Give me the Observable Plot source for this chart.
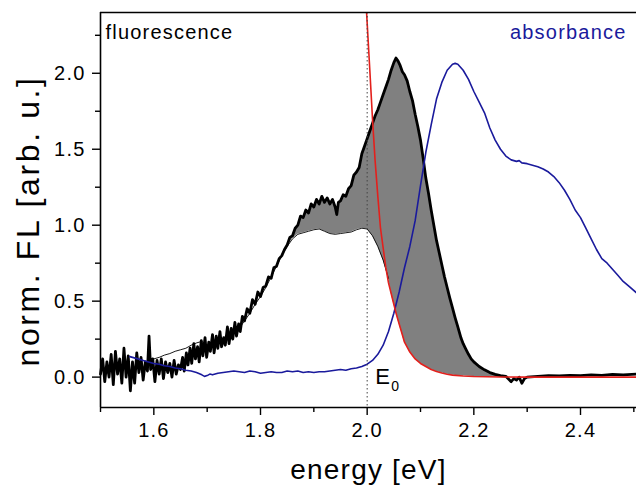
<!DOCTYPE html>
<html>
<head>
<meta charset="utf-8">
<script src="https://cdn.jsdelivr.net/npm/d3@7"></script>
<script src="https://cdn.jsdelivr.net/npm/@observablehq/plot@0.6"></script>
<style>
  html, body { margin: 0; padding: 0; background: white; }
  #chart { width: 636px; height: 490px; }
</style>
</head>
<body>
<div id="chart"></div>
<script>
// ---------- data (energy [eV], normalized value) ----------
const E0 = 2.0;

const flThick = [
  [1.500,0.02],[1.504,0.12],[1.508,-0.03],[1.512,0.10],[1.516,0.00],[1.520,0.15],[1.524,-0.05],[1.528,0.17],
  [1.532,0.02],[1.536,0.12],[1.540,-0.04],[1.544,0.19],[1.548,0.00],[1.552,0.14],[1.556,-0.09],[1.560,0.10],
  [1.564,-0.04],[1.568,0.16],[1.572,0.03],[1.576,0.13],[1.580,-0.02],[1.584,0.10],[1.588,0.04],[1.591,0.27],
  [1.594,0.05],[1.598,0.12],[1.602,-0.03],[1.606,0.11],[1.610,0.02],[1.614,0.12],[1.618,-0.01],[1.622,0.10],
  [1.626,0.03],[1.630,0.09],[1.634,0.00],[1.638,0.11],[1.642,0.02],[1.646,0.08],[1.650,0.05],[1.654,0.13],
  [1.657,0.04],[1.661,0.16],[1.664,0.08],[1.668,0.19],[1.671,0.09],[1.675,0.22],[1.678,0.12],[1.682,0.20],
  [1.685,0.10],[1.689,0.24],[1.692,0.14],[1.696,0.26],[1.699,0.13],[1.703,0.23],[1.706,0.17],[1.710,0.28],
  [1.713,0.16],[1.717,0.27],[1.720,0.19],[1.724,0.30],[1.727,0.20],[1.731,0.26],[1.734,0.21],[1.738,0.33],
  [1.741,0.22],[1.745,0.32],[1.748,0.25],[1.752,0.36],[1.755,0.27],[1.759,0.35],[1.762,0.30],[1.766,0.40],
  [1.770,0.37],[1.775,0.45],[1.780,0.42],[1.785,0.51],[1.790,0.48],[1.795,0.56],[1.800,0.53],[1.805,0.59],
  [1.810,0.60],[1.815,0.66],[1.820,0.65],[1.825,0.72],[1.830,0.73],[1.835,0.78],[1.840,0.80],[1.845,0.84],
  [1.850,0.87],[1.855,0.92],[1.860,0.93],[1.865,0.98],[1.870,1.00],[1.875,1.06],[1.880,1.05],[1.885,1.10],
  [1.890,1.08],[1.895,1.14],[1.900,1.12],[1.905,1.17],[1.910,1.14],[1.915,1.19],[1.920,1.15],[1.925,1.18],
  [1.930,1.14],[1.935,1.17],[1.940,1.12],[1.943,1.07],[1.946,1.15],[1.950,1.16],[1.955,1.20],[1.960,1.19],
  [1.965,1.24],[1.970,1.26],[1.975,1.33],[1.980,1.35],[1.985,1.38],[1.990,1.47],[1.995,1.52],[2.000,1.57],
  [2.005,1.62],[2.010,1.67],[2.015,1.72],[2.020,1.76],[2.025,1.81],[2.030,1.86],[2.035,1.91],[2.040,1.96],
  [2.045,2.02],[2.050,2.07],[2.054,2.10],[2.058,2.08],[2.062,2.05],[2.066,2.01],[2.070,1.99],[2.075,1.95],
  [2.080,1.88],[2.085,1.82],[2.090,1.73],[2.095,1.65],[2.100,1.56],[2.105,1.44],[2.110,1.31],[2.115,1.21],
  [2.120,1.10],[2.125,1.00],[2.130,0.90],[2.135,0.82],[2.140,0.74],[2.145,0.66],[2.150,0.59],[2.155,0.52],
  [2.160,0.455],[2.165,0.39],[2.170,0.33],[2.176,0.257],[2.180,0.22],[2.185,0.185],[2.190,0.15],[2.195,0.12],
  [2.200,0.10],[2.210,0.07],[2.220,0.048],[2.230,0.03],[2.240,0.018],[2.250,0.01],[2.260,0.005],[2.270,-0.03],
  [2.275,-0.01],[2.280,-0.02],[2.285,0.0],[2.290,-0.04],[2.295,-0.01],[2.300,0.0],[2.320,0.005],[2.340,0.01],
  [2.360,0.008],[2.380,0.012],[2.400,0.01],[2.420,0.015],[2.440,0.012],[2.460,0.018],[2.480,0.015],[2.505,0.02]
];

const flThin = [
  [1.59,0.11],[1.60,0.12],[1.61,0.13],[1.62,0.145],[1.63,0.155],[1.64,0.17],[1.65,0.18],[1.66,0.19],
  [1.67,0.21],[1.68,0.225],[1.69,0.235],[1.70,0.21],[1.71,0.215],[1.72,0.23],[1.73,0.25],[1.74,0.27],
  [1.75,0.29],[1.76,0.32],[1.77,0.37],[1.78,0.42],[1.79,0.48],[1.80,0.53],[1.81,0.59],[1.82,0.66],
  [1.83,0.73],[1.84,0.80],[1.85,0.86],[1.86,0.91],[1.87,0.94],[1.88,0.95],[1.89,0.96],[1.90,0.97],
  [1.91,0.975],[1.92,0.96],[1.93,0.945],[1.94,0.94],[1.95,0.945],[1.96,0.95],[1.97,0.955],[1.98,0.97],
  [1.99,0.98],[2.00,0.975],[2.01,0.93],[2.02,0.86],[2.03,0.77],[2.04,0.65]
];

const boltzmann = [
  [1.99,3.0],[1.995,2.65],[2.0,2.33],[2.005,2.02],[2.01,1.7],[2.015,1.42],[2.02,1.19],[2.025,0.98],
  [2.03,0.85],[2.035,0.72],[2.04,0.62],[2.045,0.55],[2.05,0.48],[2.055,0.41],[2.06,0.35],[2.065,0.29],
  [2.07,0.23],[2.08,0.165],[2.09,0.12],[2.1,0.09],[2.11,0.07],[2.12,0.05],[2.13,0.037],[2.14,0.027],
  [2.15,0.019],[2.16,0.013],[2.18,0.007],[2.2,0.004],[2.25,0.001],[2.3,0.0],[2.4,0.0],[2.505,0.0]
];

const absorbance = [
  [1.555,0.135],[1.56,0.13],[1.57,0.12],[1.58,0.11],[1.59,0.10],[1.60,0.09],[1.61,0.085],[1.62,0.075],
  [1.63,0.07],[1.64,0.06],[1.65,0.055],[1.66,0.045],[1.67,0.04],[1.68,0.03],[1.69,0.015],[1.695,0.005],
  [1.70,0.01],[1.705,0.02],[1.71,0.015],[1.72,0.025],[1.73,0.03],[1.74,0.035],[1.75,0.04],[1.76,0.035],
  [1.77,0.03],[1.78,0.04],[1.79,0.035],[1.80,0.025],[1.81,0.03],[1.82,0.035],[1.83,0.03],[1.84,0.03],
  [1.85,0.04],[1.86,0.035],[1.87,0.04],[1.88,0.03],[1.89,0.035],[1.90,0.03],[1.91,0.035],[1.92,0.035],
  [1.93,0.04],[1.94,0.045],[1.95,0.05],[1.96,0.045],[1.97,0.055],[1.98,0.06],[1.99,0.07],[2.00,0.085],
  [2.01,0.11],[2.02,0.15],[2.03,0.21],[2.04,0.30],[2.05,0.42],[2.06,0.56],[2.07,0.72],[2.08,0.86],
  [2.09,1.03],[2.10,1.26],[2.11,1.48],[2.12,1.66],[2.13,1.83],[2.14,1.94],[2.15,2.02],[2.16,2.06],
  [2.165,2.065],[2.17,2.06],[2.18,2.02],[2.19,1.96],[2.20,1.88],[2.21,1.81],[2.22,1.74],[2.23,1.64],
  [2.24,1.56],[2.25,1.50],[2.26,1.455],[2.27,1.43],[2.28,1.42],[2.285,1.425],[2.29,1.41],[2.30,1.405],
  [2.31,1.395],[2.32,1.385],[2.33,1.37],[2.34,1.35],[2.35,1.32],[2.36,1.28],[2.37,1.23],[2.38,1.17],
  [2.39,1.10],[2.40,1.05],[2.41,0.98],[2.42,0.91],[2.43,0.84],[2.44,0.78],[2.45,0.75],[2.46,0.71],
  [2.47,0.67],[2.48,0.63],[2.49,0.60],[2.505,0.555]
];

const xMajor = [1.6, 1.8, 2.0, 2.2, 2.4];
const xMinor = [1.5, 1.7, 1.9, 2.1, 2.3, 2.5];
const yMajor = [0.0, 0.5, 1.0, 1.5, 2.0];
const yMinor = [0.25, 0.75, 1.25, 1.75, 2.25];

// gray area between FL and its lower boundary (thin curve, then Boltzmann tail)
const fillUpper = flThick.filter(d => d[0] >= 1.855 && d[0] <= 2.26);
const fillLower = flThin.filter(d => d[0] >= 1.85 && d[0] <= 2.04)
  .concat(boltzmann.filter(d => d[0] > 2.04 && d[0] <= 2.3));

const font = "Liberation Sans, Arial, Helvetica, sans-serif";

const chart = Plot.plot({
  width: 636,
  height: 490,
  marginLeft: 100,
  marginRight: 0,
  marginTop: 12,
  marginBottom: 83,
  style: {fontFamily: font, background: "white", color: "black", overflow: "visible"},
  x: {domain: [1.5, 2.505]},
  y: {domain: [-0.2, 2.4]},
  marks: [
    Plot.areaY(fillUpper, {x: d => d[0], y1: -0.2, y2: d => d[1], fill: "#808080"}),
    Plot.areaY(fillLower, {x: d => d[0], y1: -0.2, y2: d => d[1], fill: "white"}),
    Plot.line(flThin, {x: d => d[0], y: d => d[1], stroke: "black", strokeWidth: 0.9}),
    Plot.line(flThick, {x: d => d[0], y: d => d[1], stroke: "black", strokeWidth: 2.8, strokeLinejoin: "round"}),
    Plot.line(absorbance, {x: d => d[0], y: d => d[1], stroke: "#1a1a9c", strokeWidth: 1.6}),
    Plot.line(boltzmann, {x: d => d[0], y: d => d[1], stroke: "#e3201c", strokeWidth: 1.6, clip: true}),
    Plot.ruleX([E0], {stroke: "#444", strokeWidth: 1, strokeDasharray: "1.5,2.5"}),
    Plot.ruleX([1.5], {stroke: "black", strokeWidth: 1.6}),
    Plot.ruleY([-0.2], {stroke: "black", strokeWidth: 1.6}),
    Plot.ruleY([2.4], {stroke: "black", strokeWidth: 1.6}),
    Plot.axisX(xMajor, {tickSize: 8, tickPadding: 7, fontSize: 20, strokeWidth: 1.4, tickFormat: d3.format(".1f"), label: null}),
    Plot.axisX(xMinor, {tickSize: 5, strokeWidth: 1.4, tickFormat: () => "", label: null}),
    Plot.axisY(yMajor, {tickSize: 8, tickPadding: 7, fontSize: 20, strokeWidth: 1.4, tickFormat: d3.format(".1f"), label: null}),
    Plot.axisY(yMinor, {tickSize: 5, strokeWidth: 1.4, tickFormat: () => "", label: null}),
    Plot.text(["fluorescence"], {frameAnchor: "top-left", textAnchor: "start", lineAnchor: "top", dx: 5, dy: 12, fontSize: 20, fill: "black"}),
    Plot.text(["absorbance"], {frameAnchor: "top-right", textAnchor: "end", lineAnchor: "top", dx: -10, dy: 12, fontSize: 20, fill: "#1a1a9c"}),
    Plot.text(["E"], {x: () => E0, frameAnchor: "bottom", textAnchor: "start", lineAnchor: "bottom", dx: 8, dy: -24, fontSize: 22, fill: "black"}),
    Plot.text(["0"], {x: () => E0, frameAnchor: "bottom", textAnchor: "start", lineAnchor: "bottom", dx: 24, dy: -17, fontSize: 14, fill: "black"}),
    Plot.text(["energy [eV]"], {frameAnchor: "bottom", textAnchor: "middle", lineAnchor: "middle", dy: 63, fontSize: 28, fill: "black"}),
    Plot.text(["norm. FL [arb. u.]"], {frameAnchor: "left", textAnchor: "middle", lineAnchor: "middle", rotate: -90, dx: -72, dy: 11, fontSize: 32, fill: "black"})
  ]
});

document.getElementById("chart").appendChild(chart);
d3.select(chart).selectAll("text").style("letter-spacing", "1.2px");
d3.select(chart).selectAll("text").filter(function() { return this.textContent === "norm. FL [arb. u.]"; }).style("letter-spacing", "2.6px");
d3.select(chart).selectAll("text").filter(function() { return this.textContent === "E" || this.textContent === "0"; }).style("letter-spacing", "0px");
</script>
</body>
</html>
